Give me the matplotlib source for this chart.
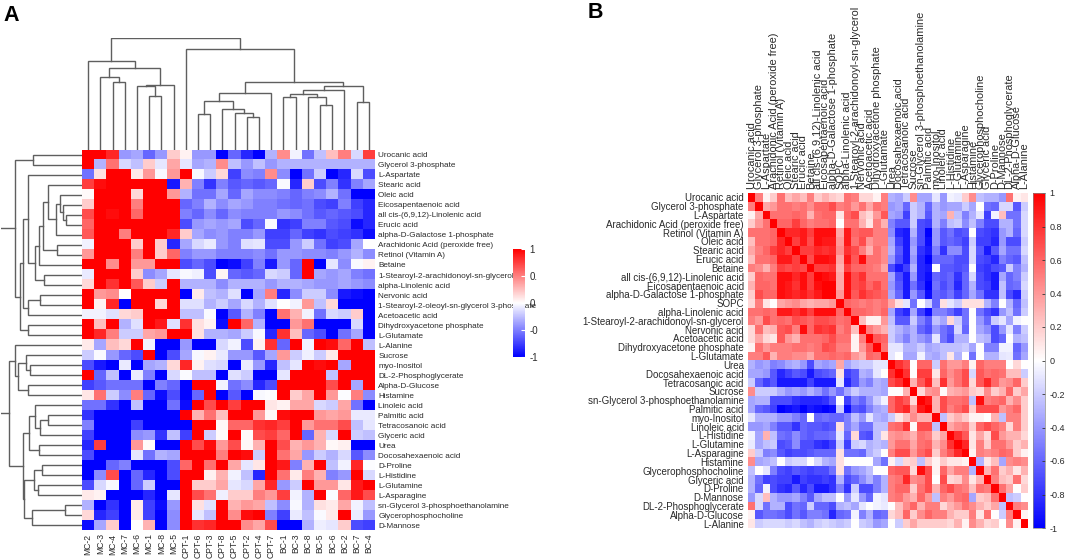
import matplotlib
matplotlib.use("Agg")
import matplotlib.pyplot as plt
import numpy as np
from matplotlib.colors import LinearSegmentedColormap

plt.rcParams['font.family'] = ['Liberation Sans', 'DejaVu Sans']
W, H = 1065, 560
TXT = '#2a2a2a'
LINE = '#5f5f5f'

samples = ['MC-2','MC-3','MC-4','MC-7','MC-6','MC-1','MC-8','MC-5',
           'CPT-1','CPT-6','CPT-3','CPT-8','CPT-5','CPT-2','CPT-4','CPT-7',
           'BC-1','BC-3','BC-8','BC-5','BC-6','BC-2','BC-7','BC-4']
metabolites_a = ['Urocanic acid','Glycerol 3-phosphate','L-Aspartate','Stearic acid','Oleic acid',
    'Eicosapentaenoic acid','all cis-(6,9,12)-Linolenic acid','Erucic acid','alpha-D-Galactose 1-phosphate',
    'Arachidonic Acid (peroxide free)','Retinol (Vitamin A)','Betaine','1-Stearoyl-2-arachidonoyl-sn-glycerol',
    'alpha-Linolenic acid','Nervonic acid','1-Stearoyl-2-oleoyl-sn-glycerol 3-phosphate','Acetoacetic acid',
    'Dihydroxyacetone phosphate','L-Glutamate','L-Alanine','Sucrose','myo-Inositol','DL-2-Phosphoglycerate',
    'Alpha-D-Glucose','Histamine','Linoleic acid','Palmitic acid','Tetracosanoic acid','Glyceric acid','Urea',
    'Docosahexaenoic acid','D-Proline','L-Histidine','L-Glutamine','L-Asparagine',
    'sn-Glycerol 3-phosphoethanolamine','Glycerophosphocholine','D-Mannose']
heat_a = [
[1,1,.85,-.4,-.35,-.6,-.4,.2,.05,-.4,-.4,-1,-.6,-.85,-1,-.3,.45,-.05,-.55,-.25,.25,.5,-.15,.75],
[1,-.3,.55,-.15,-.25,.2,-.1,.35,-.1,-.35,-.3,.45,-.25,-.4,-.25,-.4,-.3,-.3,-.3,-.3,-.3,-.3,-.3,-.3],
[-.55,.12,1,1,.08,.4,-.03,.4,1,-.03,-.2,.15,-.75,-.45,-.5,.45,-.45,-1,-.55,-.2,-1,-.85,-.15,-.7],
[.75,.95,1,1,1,1,1,-.9,.3,-.5,-.8,-.5,-.65,-.6,-.65,-.6,-.02,-.85,.2,-.7,-.5,-.8,-.5,-.35],
[.02,1,1,1,.15,1,1,.4,-.3,-.55,-.55,-.35,-.6,-.35,-.45,-.45,-.5,-.6,-.5,-.45,-.3,-.55,-1,-1],
[.2,1,1,1,.5,1,1,1,-.6,-.5,-.3,-.45,-.35,-.4,-.5,-.5,-.55,-.6,-.55,-.7,-.75,-.5,-.75,-.85],
[.7,1,.95,1,.6,1,1,1,-.5,-.6,-.45,-.6,-.45,-.5,-.5,-.5,-.4,-.45,-.55,-.65,-.6,-.65,-.7,-.85],
[.6,1,1,1,1,1,1,1,-.7,-.4,-.35,-.4,-.35,-.7,-.6,-.02,-.8,-.75,-.5,-.5,-.65,-.7,-.95,-.85],
[.65,1,1,.5,1,1,1,.85,.2,-.35,-.45,-.4,-.5,-.5,-.4,-.75,-.75,-.6,-.75,-.8,-.7,-.75,-.8,-.95],
[-.05,1,1,1,.2,1,.2,-.85,-.35,-.15,-.08,-.4,-.5,-.12,-.1,-.7,-.7,-.4,-.2,-.55,-.75,-.7,-.35,0],
[.4,1,1,1,.5,1,.2,.6,-.5,-.4,-.4,-.5,-.5,-.5,-.45,-.55,-.4,-.4,-.45,-.45,-.5,-.4,-.3,-.45],
[1,1,.45,1,.4,.4,1,1,-.7,-.6,-.7,-1,-.95,-.75,-.5,-.9,-.4,-.6,1,-1,-.1,-.45,-.02,.05],
[-.08,1,1,1,.2,-.45,-.35,-.1,-.03,-.06,-.7,.04,-.6,-.65,-.6,-.15,-.2,-.6,1,-.35,-.4,-.35,-.5,-.55],
[.15,1,.8,1,.65,.2,-.2,1,-.3,-.3,-.3,-.45,-.3,-.3,-.3,-.4,-.3,-.3,-.35,-.4,-.4,-.35,-.4,-.45],
[1,.4,.45,0,1,1,1,1,-1,.08,-.25,-.3,-.12,-1,-.35,.5,-.85,-.45,-.2,-.2,-.45,-.9,-.95,-1],
[1,.05,.85,-1,1,1,.15,1,-.12,-.12,-.3,-.2,-.35,-.15,-.3,-.12,0,-.05,.4,-.25,.15,-1,-1,-1],
[-.05,-.05,-.12,.15,.2,1,1,1,-.25,-.25,-.02,-1,-.65,-.3,-.5,-1,.55,.3,-.05,-.55,-.15,-.2,.2,-1],
[1,.25,1,-.3,-.12,1,.9,-.12,.8,.12,.05,-.95,1,.6,-.3,-1,-1,.4,.55,-1,-1,-1,-.15,-1],
[1,.85,.5,-.2,-.2,.35,.4,1,1,.12,-.3,-.3,-.35,-.2,-.03,-.85,.8,.25,-.6,-.7,-1,-.55,-.35,-1],
[.08,-.35,.25,.15,1,-.05,-1,-1,-.4,-1,-1,-.15,-.05,-.7,.05,.8,-.6,1,-.05,1,.95,.6,1,-.25],
[-.2,-.02,-.4,-.6,-.7,1,-1,-.7,-.35,-.03,.05,-.08,-.4,-.4,-.65,-.35,.4,-.2,-.06,-.2,.08,1,1,1],
[-.7,-.9,-1,-.08,-1,-.35,-.3,.15,.85,.05,-.12,-.15,-1,-.08,-.4,-.85,-.25,-.1,1,.95,1,-.35,1,1],
[1,-.6,-.25,-1,-.08,-.5,-1,-.15,-.02,-.25,-.25,-1,-.12,-.2,-1,-1,-.1,1,1,1,-.25,1,1,1],
[-.75,-.65,-.55,-.55,-.55,-1,-.5,-.6,-1,1,1,-.05,-.55,-.45,-.85,-.7,1,1,1,1,.7,1,-.35,1],
[.1,.55,-.2,-.45,.5,-.6,-.95,-.7,-1,-.6,1,-1,-.65,-1,-.03,-.01,1,.2,.35,1,.4,-.01,.5,-.45],
[-.55,-.55,-.8,-1,-.25,-1,-1,-.55,-.95,1,.7,1,.75,1,1,.1,.05,.35,.35,-.15,-.2,.35,-.55,-1],
[-.8,-1,-1,-1,-1,-1,-1,-1,1,.3,.55,.25,1,1,.4,.03,.95,1,1,.4,.35,.4,-.08,-.08],
[-.5,-1,-1,-1,-.75,-1,-1,-1,-1,1,1,.03,.6,.6,.8,.85,.75,1,.4,.55,.55,.7,-.25,-.1],
[-.75,-1,-1,-1,-.45,-.4,-.8,-.25,-.75,1,-.2,.02,1,.02,.7,.75,.6,1,-.6,.3,-.15,1,-.2,-.25],
[-.85,.75,-1,-1,.4,.02,-1,-1,1,.7,.95,.4,.7,.03,.3,1,.7,.3,.4,.3,.03,.06,-1,-1],
[-.7,-1,-1,-1,-.1,-.55,-.3,-.35,1,1,1,.5,1,.95,-.2,1,.55,.35,-.4,-.2,-.3,-.15,-.65,-.45],
[-1,-1,-.6,-.5,-1,-1,-1,-.7,.6,1,.55,1,.35,-.1,.1,1,.9,-.5,.3,1,-.25,-.05,.85,-.01],
[-1,-.45,.7,-1,-.6,-.85,-1,-.7,1,1,.05,.3,-.05,-.25,-.85,1,.55,.08,.5,.3,-.5,-.4,1,-.15],
[-.7,-.15,-.03,-1,-.6,-.2,-1,-1,1,.2,.2,.35,-.1,-.15,.35,.85,-.4,-.2,1,.4,.4,.1,.9,1],
[.08,.05,-1,-1,-1,-.85,-1,-.1,1,.7,.55,-.06,.2,.2,.5,.4,.75,-.05,-.3,1,-.02,.6,.9,.7],
[-.3,-1,-.8,-1,.08,-.75,-.95,-.4,1,.12,-.12,1,.3,.4,.35,-.25,-.45,-.03,-.3,.12,.08,.35,-.05,-.25],
[.15,-.85,-.75,-1,.08,-.75,-1,-.45,1,-.1,-.25,1,.45,.95,1,-.5,-.75,-.08,-.25,-.02,.08,1,-.08,-.4],
[-.95,-.35,.2,-1,0,.3,-1,-.45,1,.8,.85,1,1,.45,.35,.7,-1,-1,-.3,-.07,-.1,.2,-.7,-.75],
]
# merge tables: (left id, right id, height); ids >= leaf count refer to earlier merges
col_tree = [(2,3,198),(1,24,211),(5,6,155),(4,26,186),(7,27,189),(25,28,236),(0,29,258),
            (9,10,103),(13,14,96),(12,32,106),(11,33,120),(31,34,143),(15,35,165),
            (16,17,153),(19,20,130),(18,38,154),(37,39,163),(21,40,173),(22,23,140),(41,42,186),
            (36,43,198),(8,44,291),(30,45,324)]
row_tree = [(0,1,148),(6,7,48),(5,39,58),(4,40,65),(8,41,78),(3,42,103),(9,10,75),(43,44,116),
            (11,45,128),(12,13,115),(46,47,141),(2,48,163),(14,15,126),(16,50,161),(49,51,176),
            (17,18,163),(52,53,186),(38,54,201),
            (21,22,156),(20,56,168),(23,24,161),(57,58,191),(19,59,201),
            (26,27,101),(28,61,126),(25,62,141),(29,30,129),(63,64,159),
            (31,32,121),(33,34,131),(66,67,143),(35,36,50),(37,69,151),(68,70,173),(65,71,177),
            (60,72,218)]
root_stub = 243

metabolites_b = ['Urocanic acid','Glycerol 3-phosphate','L-Aspartate','Arachidonic Acid (peroxide free)',
    'Retinol (Vitamin A)','Oleic acid','Stearic acid','Erucic acid','Betaine','all cis-(6,9,12)-Linolenic acid',
    'Eicosapentaenoic acid','alpha-D-Galactose 1-phosphate','SOPC','alpha-Linolenic acid',
    '1-Stearoyl-2-arachidonoyl-sn-glycerol','Nervonic acid','Acetoacetic acid','Dihydroxyacetone phosphate',
    'L-Glutamate','Urea','Docosahexaenoic acid','Tetracosanoic acid','Sucrose','sn-Glycerol 3-phosphoethanolamine',
    'Palmitic acid','myo-Inositol','Linoleic acid','L-Histidine','L-Glutamine','L-Asparagine','Histamine',
    'Glycerophosphocholine','Glyceric acid','D-Proline','D-Mannose','DL-2-Phosphoglycerate','Alpha-D-Glucose','L-Alanine']
# upper triangle of the correlation matrix, one list per row, starting right of the diagonal
corr_upper = [
[.5,.05,.2,.55,.25,.35,.25,.5,.2,.3,.2,.15,.55,.5,.15,.15,.05,.5, -.3,-.35,-.2,.45,-.35,-.35,-.1,-.4,-.05,-.08,.2,.45,-.25,-.3,-.3,-.4,.55,.05,.1],
[.35,.4,.55,.55,.5,.55,.45,.6,.6,.7,.5,.55,.4,.55,.35,.55,.5, -.4,-.35,-.6,-.2,-.3,-.6,-.3,-.4,-.35,-.35,-.2,-.35,0,-.55,-.6,-.15,-.15,-.65,-.2],
[.55,.55,.55,.6,.55,.3,.55,.6,.6,.1,.6,.7,.25,.15,.4,.65, -.35,-.4,-.75,-.2,-.3,-.65,-.3,-.35,.3,-.25,-.5,-.3,-.1,-.75,-.05,.25,-.55,-.55,-.15],
[.6,.6,.75,.6,.5,.55,.55,.6,0,.55,.55,.3,.1,.5,.3, -.5,-.65,-.65,-.2,-.7,-.75,-.3,-.5,-.25,-.2,-.45,-.25,-.5,-.7,-.7,-.3,-.3,-.55,-.15],
[.85,.85,.9,.75,.95,.95,.95,.35,.9,.6,.65,.65,.5,.5, -.45,-.85,-.9,-.3,-.7,-1,-.4,-.65,-.55,-.7,-.65,0,-.7,-.75,-.8,-.4,-.3,-.6,-.15],
[.75,.9,.7,.95,.9,.9,.4,.9,.55,.7,.4,.5,.5, -.35,-.75,-.9,-.4,-.7,-.95,-.4,-.65,-.6,-.65,-.75,-.2,-.75,-.75,-.85,-.4,-.7,-.7,-.2],
[.75,.75,.85,.8,.85,.45,.8,.7,.5,.3,.55,.45, -.3,-.65,-.9,-.35,-.8,-.9,-.5,-.8,-.45,-.45,-.7,-.15,-.65,-.9,-.65,-.35,-.55,-.55,-.15],
[.7,.95,.95,.9,.35,.9,.65,.95,.55,.55,.45, -.4,-.7,-.9,-.4,-.85,-1,-.6,-.6,-.6,-.7,-.7,-.15,-.7,-.75,-.85,-.5,-.6,-.65,-.25],
[.75,.75,.8,.3,.75,.6,.6,.55,.5,.35, -.7,-.9,-.75,-.3,-.85,-.9,0,-.65,-.65,-.7,-.65,0,-.75,-.8,-.7,-.65,-.2,-.5,-.3],
[.95,.9,.35,.95,.7,.8,.55,.55,.55, -.35,-.7,-.9,-.4,-.85,-.95,-.6,-.65,-.6,-.8,-.6,-.15,-.7,-.8,-.9,-.35,-.6,-.5,-.2],
[1,.35,.95,.7,.75,.6,.7,.55, -.4,-.65,-.9,-.55,-.8,-1,-.55,-.7,-.6,-.85,-.6,-.3,-.7,-.75,-.9,-.25,-.6,-.55,-.15],
[.4,.95,.65,.8,.7,.65,.6, -.35,-.6,-.9,-.4,-.65,-.95,-.6,-.65,-.55,-.75,-.6,-.35,-.55,-.8,-.8,-.25,-.7,-.85,-.2],
[.6,.55,.5,.55,.5,.55, .35,.12,-.1,-.55,0,-.2,-.6,.12,-.1,-.2,.12,.12,.12,-.3,-.5,0,-.3,-.6,-.25],
[.6,.6,.55,.5,.6, -.35,-.75,-.85,-.35,-.75,-.95,-.5,-.5,-.6,-.75,-.55,0,-.55,-.7,-.8,-.4,-.25,-.55,-.2],
[.25,.05,.05,.4, -.25,-.65,-.65,-.2,-.5,-.65,-.25,-.35,.15,-.2,-.55,0,-.4,-.6,-.2,-.1,-.35,-.05,0],
[.5,.4,.3, -.2,-.3,-.4,-.3,-.6,-.7,-.4,-.55,-.65,-.15,-.6,0,-.35,-.45,-.7,-.4,-.1,-.5,-.2],
[.65,.6, -.2,-.35,-.5,-.3,-.4,-.5,-.1,-.55,-.7,-.3,-.3,0,-.25,-.3,-.7,-.6,0,-.3,-.25],
[.55, -.1,-.1,-.3,-.3,-.2,-.35,-.3,-.25,-.25,-.25,-.2,-.35,0,-.5,-.5,-.05,-.05,-.6,-.4],
[-.1,0,-.35,-.35,-.05,-.3,-.35,-.25,.1,-.3,0,-.55,0,-.3,-.3,-.1,-.08,-.55,-.35],
[.8,.7,0,.6,.6,-.2,.55,.4,.4,.5,.05,.6,.5,.5,.5,0,.15,0],
[.8,0,.75,.75,.1,.6,.45,.55,.7,-.15,.65,.55,.6,.55,.25,.25,-.2],
[.3,.65,.85,.25,.8,.4,.55,.7,.15,.65,.85,.6,.4,.45,.6,.2],
[.15,.4,.45,.02,.3,.35,.4,.2,.15,.45,.2,.3,.6,.2,.35],
[.9,.3,.7,.55,.55,.6,-.25,.95,.5,.55,.6,.3,.45,.2],
[.3,.7,.5,.6,.7,.2,.7,.7,.7,.4,.5,.6,.2],
[-.25,.2,.3,.2,.05,.05,0,.3,-.25,.5,.5,.2],
[.35,.45,.5,.2,.6,.7,.6,.5,.15,.5,.2],
[.8,.65,.1,.35,.15,.7,.4,.3,.3,.15],
[.85,.1,.5,.2,.55,.55,.4,.2,.3],
[.05,.5,.45,.5,.6,.55,.2,.05],
[-.3,.1,.25,-.35,.45,.5,.45],
[.3,.55,.2,.3,.1,.3],
[.5,.25,.2,.55,.15],
[.55,.35,0,.2],
[-.25,-.2,0],
[.5,.45],
[.05],
]
cbar_a_ticks = [1, .5, 0, -.5, -1]
cbar_a_labels = ['1', '0.', '0', '-0', '-1']
cbar_b_ticks = [1, .8, .6, .4, .2, 0, -.2, -.4, -.6, -.8, -1]
cbar_b_labels = ['1', '0.8', '0.6', '0.4', '0.2', '0', '-0.2', '-0.4', '-0.6', '-0.8', '-1']

# ---------------------------------------------------------------- helpers
cmap = LinearSegmentedColormap.from_list('bwr2', ['#0000ff', '#ffffff', '#ff0000'])
fig = plt.figure(figsize=(W / 100, H / 100), dpi=100)

def ax_px(x0, y0, x1, y1):
    return fig.add_axes([x0 / W, 1 - y1 / H, (x1 - x0) / W, (y1 - y0) / H])

def dendro_segments(tree, n):
    pos = {i: i + .5 for i in range(n)}
    hgt = {i: 0 for i in range(n)}
    segs = []
    for k, (a, b, h) in enumerate(tree):
        segs.append(([pos[a], pos[a], pos[b], pos[b]], [hgt[a], h, h, hgt[b]]))
        pos[n + k] = (pos[a] + pos[b]) / 2
        hgt[n + k] = h
    return segs, pos, hgt

HX0, HX1, HY0, HY1 = 82, 375, 150, 530

# ---------------------------------------------------------------- panel A
ax = ax_px(HX0, HY0, HX1, HY1)
im = ax.imshow(np.array(heat_a), cmap=cmap, vmin=-1, vmax=1, aspect='auto', interpolation='nearest')
for s in ax.spines.values():
    s.set_visible(False)
ax.set_xticks(range(len(samples)), samples, rotation=90, fontsize=6.2, color=TXT)
ax.yaxis.tick_right()
ax.set_yticks(range(len(metabolites_a)), metabolites_a, fontsize=5.9, color=TXT)
ax.tick_params(length=0, pad=2.5)

top = ax_px(HX0, HY0 - 112, HX1, HY0)
segs, _, _ = dendro_segments(col_tree, len(samples))
for xs, ys in segs:
    top.plot(xs, ys, color=LINE, lw=1.0, solid_joinstyle='miter')
top.set_xlim(0, len(samples))
top.set_ylim(0, 324)
top.axis('off')

left = ax_px(HX0 - 81, HY0, HX0, HY1)
segs, pos, hgt = dendro_segments(row_tree, len(metabolites_a))
for xs, ys in segs:
    left.plot(ys, xs, color=LINE, lw=1.0, solid_joinstyle='miter')
n_r = len(metabolites_a)
for a in (n_r + 17, n_r + 35):
    left.plot([hgt[a], root_stub], [pos[a], pos[a]], color=LINE, lw=1.0)
left.set_xlim(root_stub, 0)
left.set_ylim(n_r, 0)
left.axis('off')

cax = ax_px(513, 249, 525, 357)
cb = fig.colorbar(im, cax=cax)
cb.outline.set_visible(False)
cb.set_ticks(cbar_a_ticks, labels=cbar_a_labels)
cax.tick_params(labelsize=7, length=3, direction='in', color='white', pad=3, labelcolor=TXT)

fig.text(3 / W, 1 - 21 / H, 'A', fontsize=15.5, fontweight='bold', color='black')

# ---------------------------------------------------------------- panel B
n_b = len(metabolites_b)
corr = np.eye(n_b)
for i, row in enumerate(corr_upper):
    for j, v in enumerate(row):
        corr[i, i + 1 + j] = v
        corr[i + 1 + j, i] = v

bx = ax_px(748, 193, 1028, 528)
imb = bx.imshow(corr, cmap=cmap, vmin=-1, vmax=1, aspect='auto', interpolation='nearest')
for s in bx.spines.values():
    s.set_visible(False)
bx.xaxis.tick_top()
bx.set_xticks(range(n_b), metabolites_b, rotation=90, fontsize=7.9, color=TXT)
bx.set_yticks(range(n_b), metabolites_b, fontsize=7.0, color=TXT)
bx.tick_params(length=0, pad=3)

cbx = ax_px(1033, 193, 1045, 528)
cbb = fig.colorbar(imb, cax=cbx)
cbb.outline.set_linewidth(0.5)
cbb.outline.set_edgecolor('#888888')
cbb.set_ticks(cbar_b_ticks, labels=cbar_b_labels)
cbx.tick_params(labelsize=6.5, length=2.5, width=.6, direction='in', color='#333333', pad=3, labelcolor=TXT)

fig.text(588 / W, 1 - 18 / H, 'B', fontsize=15.5, fontweight='bold', color='black')

fig.savefig('out.png', dpi=100)
